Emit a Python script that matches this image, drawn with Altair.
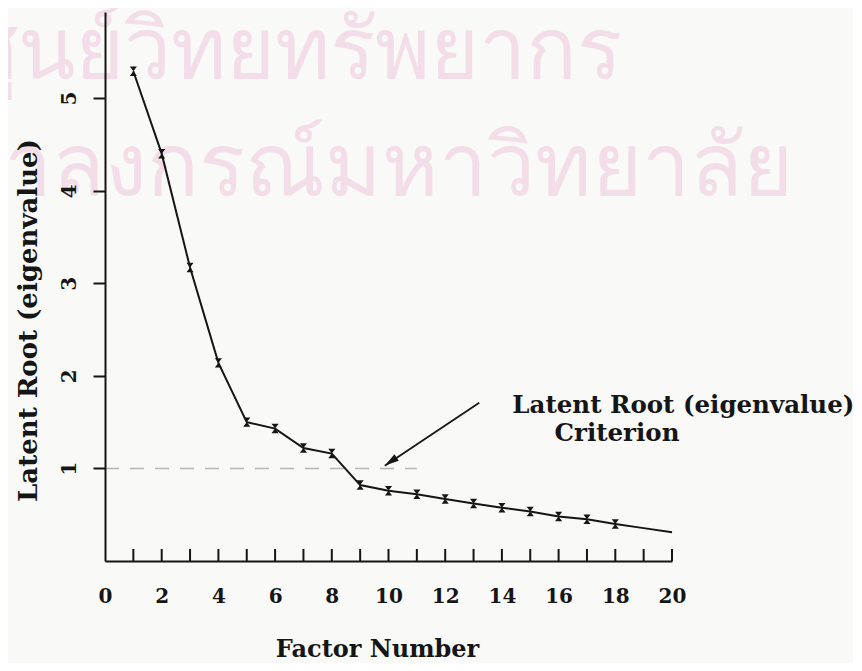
import altair as alt
import pandas as pd

# ---- data ----
factor_numbers = list(range(1, 21))
eigenvalues = [5.29, 4.40, 3.17, 2.14, 1.50, 1.43, 1.22, 1.16, 0.82, 0.76,
               0.72, 0.67, 0.62, 0.575, 0.535, 0.48, 0.45, 0.40, 0.355, 0.31]
has_marker = [True] * 18 + [False] * 2

x_tick_positions = list(range(1, 21))
x_label_values = list(range(0, 21, 2))
y_tick_values = [1, 2, 3, 4, 5]

criterion_value = 1.0
criterion_from = 0
criterion_to = 11

arrow_tail = [13.2, 1.71]
arrow_tip = [9.87, 1.03]
arrow_head_center = [10.08, 1.075]

annotation_lines = ["Latent Root (eigenvalue)", "Criterion"]
annotation_x = [20.4, 18.06]
annotation_y = [1.67, 1.37]

x_title = "Factor Number"
y_title = "Latent Root (eigenvalue)"

watermark_lines = ["ศูนย์วิทยทรัพยากร", "จุฬาลงกรณ์มหาวิทยาลัย"]

# ---- styling ----
INK = "#151515"
FONT = "DejaVu Serif"
W, H = 567, 549

xs = alt.Scale(domain=[0, 20], nice=False, zero=False)
ys = alt.Scale(domain=[0, 5.93], nice=False, zero=False)

x_axis = alt.Axis(values=x_label_values, ticks=False, tickSize=0, grid=False,
                  domainColor=INK, domainWidth=2, zindex=1,
                  labelFont=FONT, labelFontWeight="bold", labelFontSize=20,
                  labelColor=INK, labelPadding=41, labelBaseline="alphabetic",
                  labelAngle=0, labelFlush=False, labelOverlap=False,
                  title=x_title, titleFont=FONT, titleFontWeight="bold",
                  titleFontSize=24, titleColor=INK, titleX=272, titleY=88,
                  titleBaseline="middle", titleAlign="center")
y_axis = alt.Axis(values=y_tick_values, tickSize=12, tickWidth=2, tickColor=INK,
                  grid=False, domainColor=INK, domainWidth=2, zindex=1,
                  labelFont=FONT, labelFontWeight="bold", labelFontSize=20,
                  labelColor=INK, labelAngle=270, labelAlign="center",
                  labelBaseline="alphabetic", labelPadding=18,
                  title=y_title, titleFont=FONT, titleFontWeight="bold",
                  titleFontSize=26, titleColor=INK, titleAngle=270,
                  titleX=-77, titleY=308, titleBaseline="middle",
                  titleAlign="center")


def X(field):
    return alt.X(field, type="quantitative", scale=xs, axis=x_axis)


def Y(field):
    return alt.Y(field, type="quantitative", scale=ys, axis=y_axis)


df = pd.DataFrame({"factor": factor_numbers, "eigen": eigenvalues,
                   "marked": has_marker})

# watermark (decorative, behind everything)
wm = pd.DataFrame({"t": watermark_lines})
wm1 = alt.Chart(wm.iloc[[0]]).mark_text(
    font="Noto Sans", fontSize=84, color="#f3dde8", align="left",
    baseline="alphabetic").encode(x=alt.value(-140), y=alt.value(66), text="t:N")
wm2 = alt.Chart(wm.iloc[[1]]).mark_text(
    font="Noto Sans", fontSize=86, color="#f3dde8", align="right",
    baseline="alphabetic").encode(x=alt.value(688), y=alt.value(183), text="t:N")

crit = alt.Chart(pd.DataFrame({"a": [criterion_from], "b": [criterion_to],
                               "v": [criterion_value]})).mark_rule(
    color="#b5b5b5", strokeWidth=1.5, strokeDash=[14, 11]).encode(
    x=X("a"), x2="b:Q", y=Y("v"))

ticks = alt.Chart(pd.DataFrame({"p": x_tick_positions,
                                "y0": [0.0] * len(x_tick_positions),
                                "y1": [0.13] * len(x_tick_positions)})).mark_rule(
    color=INK, strokeWidth=2).encode(x=X("p"), y=Y("y0"), y2="y1:Q")

line = alt.Chart(df).mark_line(color=INK, strokeWidth=2).encode(
    x=X("factor"), y=Y("eigen"))

hourglass = "M -0.75 -1 L 0.75 -1 L -0.75 1 L 0.75 1 Z"
markers = alt.Chart(df[df["marked"]]).mark_point(
    shape=hourglass, filled=True, size=90, color=INK, opacity=1,
    strokeWidth=1).encode(x=X("factor"), y=Y("eigen"))

arrow = alt.Chart(pd.DataFrame({"ax": [arrow_tail[0]], "ay": [arrow_tail[1]],
                                "bx": [arrow_tip[0]], "by": [arrow_tip[1]]})).mark_rule(
    color=INK, strokeWidth=1.8).encode(x=X("ax"), y=Y("ay"), x2="bx:Q", y2="by:Q")

head = alt.Chart(pd.DataFrame({"hx": [arrow_head_center[0]],
                               "hy": [arrow_head_center[1]]})).mark_point(
    shape="M 0 -1 L 0.55 1 L -0.55 1 Z", filled=True, size=200, angle=236,
    color=INK, opacity=1).encode(x=X("hx"), y=Y("hy"))

notes = alt.Chart(pd.DataFrame({"t": annotation_lines, "nx": annotation_x,
                                "ny": annotation_y})).mark_text(
    font=FONT, fontWeight="bold", fontSize=24.5, color=INK, align="center",
    baseline="middle").encode(x=X("nx"), y=Y("ny"), text="t:N")

chart = alt.layer(wm1, wm2, crit, ticks, line, markers, arrow, head, notes).properties(
    width=W, height=H,
    autosize=alt.AutoSizeParams(type="none"),
    padding={"left": 97, "top": 4, "right": 181, "bottom": 102},
    background="#f9f9f7",
).configure_view(stroke=None)

chart.save("out.html", embed_options={"renderer": "svg", "actions": False})
